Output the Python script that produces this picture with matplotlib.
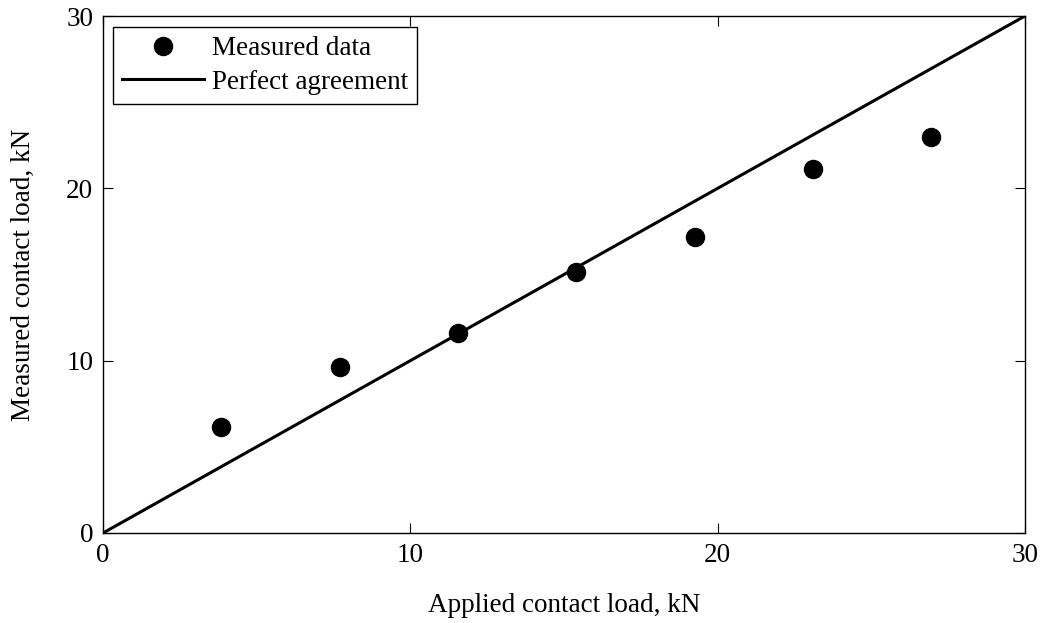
import matplotlib
matplotlib.use("Agg")
import matplotlib.pyplot as plt

plt.rcParams['font.family'] = ['Liberation Serif', 'DejaVu Serif']

# measured vs applied contact load (kN)
applied = [3.85, 7.7, 11.55, 15.4, 19.25, 23.1, 26.95]
measured = [6.15, 9.65, 11.6, 15.15, 17.2, 21.15, 23.0]
line_x = [0, 30]
line_y = [0, 30]

fig = plt.figure(figsize=(10.43, 6.23), dpi=100)
ax = fig.add_axes([103/1043, 1 - 533/623, (1025 - 103)/1043, (533 - 16)/623])

ax.plot(applied, measured, 'o', color='black', markersize=13, label='Measured data')
ax.plot(line_x, line_y, '-', color='black', linewidth=2.2, label='Perfect agreement')

ax.set_xlim(0, 30)
ax.set_ylim(0, 30)
ax.set_xticks([0, 10, 20, 30])
ax.set_yticks([0, 10, 20, 30])
ax.tick_params(direction='in', top=True, right=True, labelsize=19.5, length=7, pad=7)
for s in ax.spines.values():
    s.set_linewidth(1.0)

ax.set_xlabel('Applied contact load, kN', fontsize=19.5, labelpad=18)
ax.set_ylabel('Measured contact load, kN', fontsize=19.5, labelpad=22)

leg = ax.legend(loc='upper left', fontsize=19.5, fancybox=False, edgecolor='black',
                framealpha=1, bbox_to_anchor=(10/922, 1 - 11/517), borderaxespad=0,
                handlelength=3.0, borderpad=0.35, labelspacing=0.3, handletextpad=0.3)
leg.get_frame().set_linewidth(1.0)

fig.savefig('out.png', dpi=100)
